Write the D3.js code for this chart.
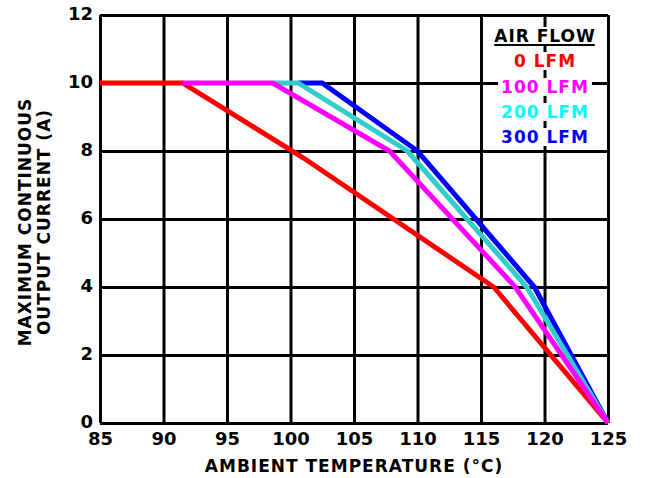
<!DOCTYPE html>
<html>
<head>
<meta charset="utf-8">
<script src="https://cdn.jsdelivr.net/npm/d3@7"></script>
<style>
  body { margin: 0; background: #fff; }
  svg { display: block; }
  text { font-family: "DejaVu Sans", Verdana, sans-serif; font-weight: bold; }
</style>
</head>
<body>
<div id="vis"></div>
<script>
const FRAME_WIDTH = 649;
const FRAME_HEIGHT = 478;
const MARGINS = {left: 100, right: 41, top: 15, bottom: 55};

// data: [temperature, current]
const lfm0 = [[85, 10], [91.5, 10], [101, 7.8], [116, 4], [125, 0]];
const lfm100 = [[91.5, 10], [98.6, 10], [107.8, 8], [117.7, 4], [125, 0]];
const lfm200 = [[98.6, 10], [100.6, 10], [109.2, 8], [118.6, 4], [125, 0]];
const lfm300 = [[100.6, 10], [102.5, 10], [110, 8], [119.2, 4], [125, 0]];

const xTicks = [85, 90, 95, 100, 105, 110, 115, 120, 125];
const yTicks = [0, 2, 4, 6, 8, 10, 12];
const seriesNames = ["0 LFM", "100 LFM", "200 LFM", "300 LFM"];
const legendColors = ["#ff0000", "#ff00ff", "#00ffff", "#0000ff"];
const lineColors = ["#ff0000", "#ff00ff", "#33cccc", "#0000ff"];

const VIS_WIDTH = FRAME_WIDTH - MARGINS.left - MARGINS.right;
const VIS_HEIGHT = FRAME_HEIGHT - MARGINS.top - MARGINS.bottom;

const FRAME = d3.select("#vis")
  .append("svg")
    .attr("width", FRAME_WIDTH)
    .attr("height", FRAME_HEIGHT);

const X_SCALE = d3.scaleLinear().domain([85, 125]).range([0, VIS_WIDTH]);
const Y_SCALE = d3.scaleLinear().domain([0, 12]).range([VIS_HEIGHT, 0]);

const G = FRAME.append("g")
  .attr("transform", "translate(" + MARGINS.left + "," + MARGINS.top + ")");

// grid + tick labels
const xAxis = G.append("g")
  .attr("transform", "translate(0," + VIS_HEIGHT + ")")
  .call(d3.axisBottom(X_SCALE).tickValues(xTicks).tickSize(-VIS_HEIGHT).tickPadding(9));
const yAxis = G.append("g")
  .call(d3.axisLeft(Y_SCALE).tickValues(yTicks).tickSize(-VIS_WIDTH).tickPadding(7));

[xAxis, yAxis].forEach(ax => {
  ax.select(".domain").remove();
  ax.selectAll("line").attr("stroke", "#000").attr("stroke-width", 3);
  ax.selectAll("text").attr("fill", "#000").style("font-size", "18px")
    .style("font-family", '"DejaVu Sans", Verdana, sans-serif').style("font-weight", "bold");
});
yAxis.selectAll("text").attr("dy", "0.25em");
xAxis.selectAll("text").attr("dy", "0.71em");

// series lines
const line = d3.line().x(d => X_SCALE(d[0])).y(d => Y_SCALE(d[1]));
[lfm0, lfm300, lfm200, lfm100].forEach((s, i) => {
  const idx = [0, 3, 2, 1][i];
  G.append("path")
    .datum(s)
    .attr("d", line)
    .attr("fill", "none")
    .attr("stroke", lineColors[idx])
    .attr("stroke-width", 5)
    .attr("stroke-linejoin", "miter");
});

// legend
const LEG_X = 545;
const legendLines = ["AIR FLOW"].concat(seriesNames);
const legendFill = ["#000"].concat(legendColors);
const legY = [42, 67, 93, 118, 143];
const legG = FRAME.append("g");
legendLines.forEach((t, i) => {
  const txt = legG.append("text")
    .attr("x", LEG_X)
    .attr("y", legY[i])
    .attr("text-anchor", "middle")
    .attr("fill", legendFill[i])
    .style("font-size", "17px")
    .style("letter-spacing", "1px")
    .text(t);
  const bb = txt.node().getBBox();
  legG.insert("rect", "text")
    .attr("x", bb.x - 3)
    .attr("y", bb.y + 1)
    .attr("width", bb.width + 6)
    .attr("height", bb.height - 2)
    .attr("fill", "#fff");
  if (i === 0) {
    legG.append("line")
      .attr("x1", bb.x).attr("x2", bb.x + bb.width - 1)
      .attr("y1", legY[i] + 3).attr("y2", legY[i] + 3)
      .attr("stroke", "#000").attr("stroke-width", 2);
  }
});

// axis titles
FRAME.append("text")
  .attr("x", 354)
  .attr("y", 472)
  .attr("text-anchor", "middle")
  .style("font-size", "17px")
  .style("letter-spacing", "1px")
  .text("AMBIENT TEMPERATURE (°C)");

const yTitle = FRAME.append("text")
  .attr("transform", "translate(0,222) rotate(-90)")
  .attr("text-anchor", "middle")
  .style("font-size", "17px")
  .style("letter-spacing", "1px");
yTitle.append("tspan").attr("x", 0).attr("y", 31).text("MAXIMUM CONTINUOUS");
yTitle.append("tspan").attr("x", 0).attr("y", 50).text("OUTPUT CURRENT (A)");
</script>
</body>
</html>
